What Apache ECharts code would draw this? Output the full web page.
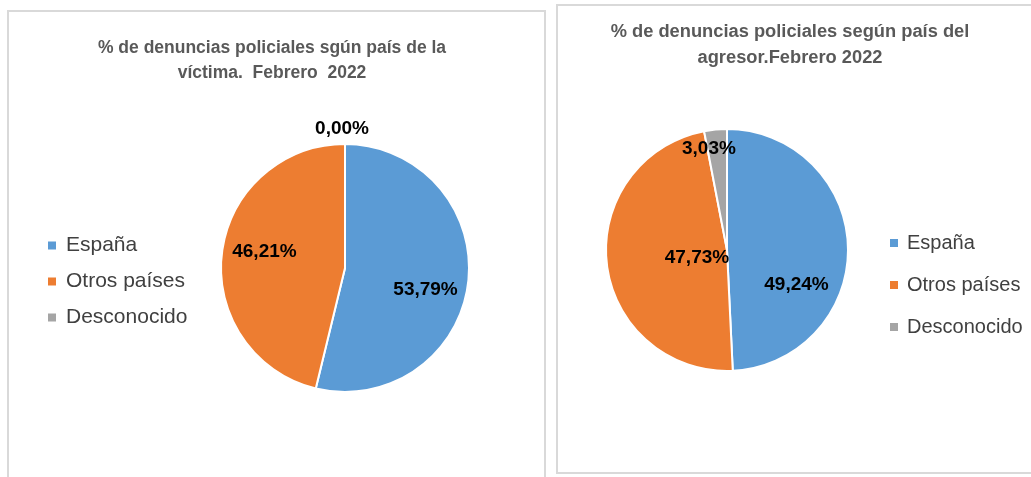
<!DOCTYPE html>
<html>
<head>
<meta charset="utf-8">
<script src="https://cdn.jsdelivr.net/npm/echarts@6/dist/echarts.min.js"></script>
<style>
  html, body { margin: 0; padding: 0; background: #fff; }
  #chart { width: 1031px; height: 477px; }
</style>
</head>
<body>
<div id="chart"></div>
<script>
// datos
const categories = ['España', 'Otros países', 'Desconocido'];
const victimaValues = [53.79, 46.21, 0.00];
const agresorValues = [49.24, 47.73, 3.03];
const titleVictima = '% de denuncias policiales sgún país de la\nvíctima.  Febrero  2022';
const titleAgresor = '% de denuncias policiales según país del\nagresor.Febrero 2022';

const colors = ['#5B9BD5', '#ED7D31', '#A5A5A5'];
const FONT = '"Liberation Sans", Arial, sans-serif';

// desplazamiento de etiquetas (Excel las coloca con "mejor ajuste")
const offsetsVictima = [[16, 14], [-16, -9], [-3, -74]];
const offsetsAgresor = [[6, 36], [33, 0], [-12, -38]];

function pct(v) {
	return v.toFixed(2).replace('.', ',') + '%';
}

function buildData(values, offsets) {
	return categories.map((name, i) => ({
		name: name,
		value: values[i],
		label: { offset: offsets[i] }
	}));
}

function pieSeries(values, offsets, center, radius) {
	return {
		type: 'pie',
		center: center,
		radius: radius,
		startAngle: 90,
		clockwise: true,
		avoidLabelOverlap: false,
		itemStyle: { borderColor: '#fff', borderWidth: 2 },
		label: {
			show: true,
			position: 'inside',
			formatter: p => pct(p.value),
			color: '#000',
			fontFamily: FONT,
			fontWeight: 'bold',
			fontSize: 19
		},
		labelLine: { show: false },
		emphasis: { disabled: true },
		data: buildData(values, offsets)
	};
}

const chart = echarts.init(document.getElementById('chart'), null, { renderer: 'canvas' });

chart.setOption({
	animation: false,
	color: colors,
	graphic: [
		{ type: 'rect', shape: { x: 8, y: 11, width: 537, height: 480 },
			style: { fill: 'none', stroke: '#d9d9d9', lineWidth: 2 }, silent: true },
		{ type: 'rect', shape: { x: 557, y: 5, width: 500, height: 468 },
			style: { fill: 'none', stroke: '#d9d9d9', lineWidth: 2 }, silent: true }
	],
	title: [
		{
			text: titleVictima,
			left: 267, top: 31, textAlign: 'center',
			textStyle: { fontFamily: FONT, fontWeight: 'bold', fontSize: 17.5, color: '#595959', lineHeight: 25 }
		},
		{
			text: titleAgresor,
			left: 785, top: 14, textAlign: 'center',
			textStyle: { fontFamily: FONT, fontWeight: 'bold', fontSize: 18.3, color: '#595959', lineHeight: 26 }
		}
	],
	legend: [
		{
			orient: 'vertical', left: 48, top: 235, padding: 0,
			icon: 'rect', itemWidth: 8, itemHeight: 8, itemGap: 15,
			itemStyle: { borderWidth: 0 },
			selectedMode: false,
			data: categories,
			textStyle: { fontFamily: FONT, fontSize: 21, color: '#404040', lineHeight: 20, padding: [0, 0, 0, 5] }
		},
		{
			orient: 'vertical', left: 890, top: 233, padding: 0,
			icon: 'rect', itemWidth: 8, itemHeight: 8, itemGap: 22,
			itemStyle: { borderWidth: 0 },
			selectedMode: false,
			data: categories,
			textStyle: { fontFamily: FONT, fontSize: 20, color: '#404040', lineHeight: 20, padding: [0, 0, 0, 4] }
		}
	],
	series: [
		pieSeries(victimaValues, offsetsVictima, [345, 268], 124),
		pieSeries(agresorValues, offsetsAgresor, [727, 250], 121)
	]
});
</script>
</body>
</html>
